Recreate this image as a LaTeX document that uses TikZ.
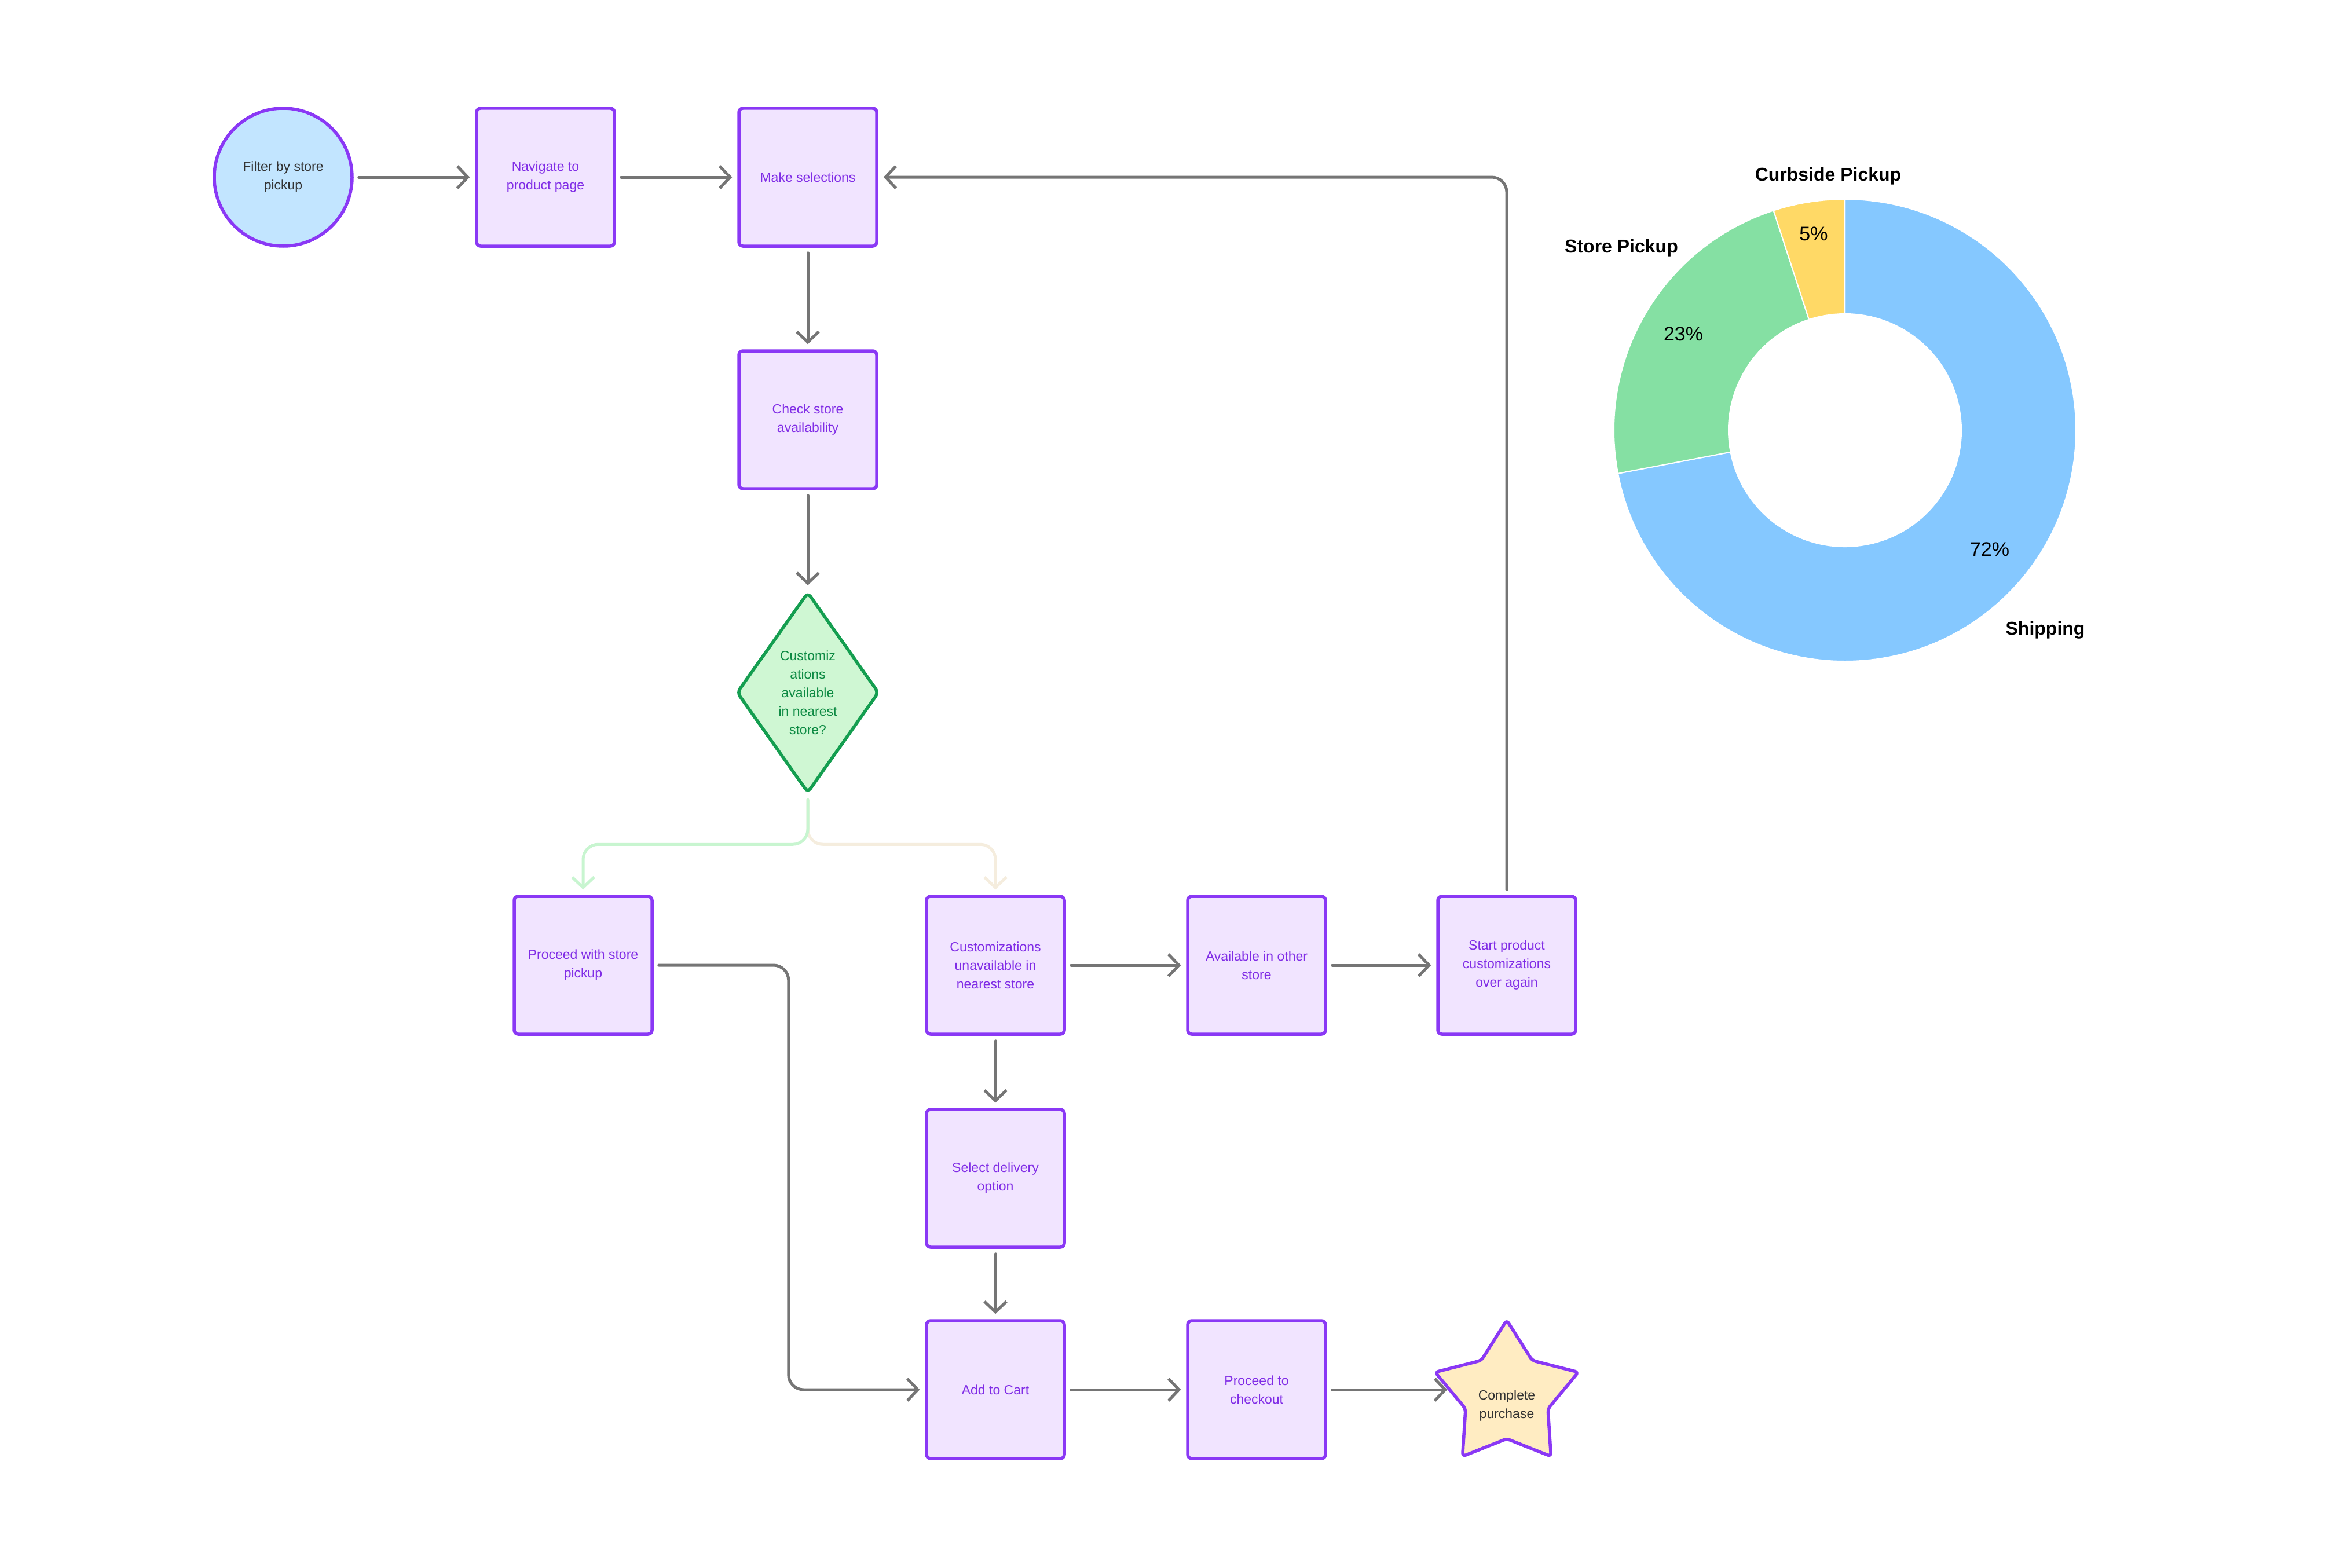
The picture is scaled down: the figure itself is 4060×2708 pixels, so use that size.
\documentclass[tikz,border=0pt]{standalone}
\usepackage{fontspec}
\setmainfont{Liberation Sans}
\usetikzlibrary{shapes.geometric,arrows.meta}
\definecolor{boxborder}{RGB}{138,56,245}
\definecolor{boxfill}{RGB}{241,228,255}
\definecolor{boxtext}{RGB}{128,44,230}
\definecolor{circfill}{RGB}{194,229,255}
\definecolor{diafill}{RGB}{207,247,211}
\definecolor{diaborder}{RGB}{20,158,80}
\definecolor{diatext}{RGB}{13,138,67}
\definecolor{starfill}{RGB}{255,236,194}
\definecolor{darktext}{RGB}{51,51,51}
\definecolor{arrowgray}{RGB}{117,117,117}
\definecolor{branchgreen}{RGB}{200,245,208}
\definecolor{branchbeige}{RGB}{245,237,222}
\definecolor{pieblue}{RGB}{133,200,255}
\definecolor{piegreen}{RGB}{133,224,163}
\definecolor{pieyellow}{RGB}{255,217,102}
\begin{document}
\begin{tikzpicture}[x=1pt,y=-1pt,
  base/.style={line width=5.5pt, font=\fontsize{23}{32}\selectfont, align=center, inner sep=0pt},
  stepbox/.style={base, draw=boxborder, fill=boxfill, text=boxtext, rectangle, rounded corners=7pt, minimum width=238pt, minimum height=238pt},
  startcirc/.style={base, draw=boxborder, fill=circfill, text=darktext, circle, minimum size=238pt},
  decision/.style={base, draw=diaborder, fill=diafill, text=diatext, diamond, rounded corners=8pt, minimum width=238pt, minimum height=347pt},
  endstar/.style={base, draw=boxborder, fill=starfill, text=darktext, star, star points=5, star point ratio=1.74, minimum size=260pt, rounded corners=6pt},
  arr/.style={draw=arrowgray, line width=5pt, line cap=round, line join=round, -{Straight Barb[length=18pt,width=38pt]}, shorten <=9pt, shorten >=9pt},
  greenarr/.style={arr, draw=branchgreen, rounded corners=26pt},
  beigearr/.style={arr, draw=branchbeige, rounded corners=26pt},
  chartlabel/.style={font=\fontsize{32}{36}\selectfont\bfseries, text=black, inner sep=0pt},
  pct/.style={font=\fontsize{34}{38}\selectfont, text=black, inner sep=0pt}
]
\fill[white] (0,0) rectangle (4060,2708);
\useasboundingbox (0,0) rectangle (4060,2708);

% nodes
\node[startcirc] (filter) at (489,306) {Filter by store\\pickup};
\node[stepbox] (nav) at (942,306) {Navigate to\\product page};
\node[stepbox] (make) at (1395,306) {Make selections};
\node[stepbox] (check) at (1395,725) {Check store\\availability};
\node[decision] (dia) at (1395,1196) {Customiz\\ations\\available\\in nearest\\store?};
\node[stepbox] (pickup) at (1007,1667) {Proceed with store\\pickup};
\node[stepbox] (unav) at (1719,1667) {Customizations\\unavailable in\\nearest store};
\node[stepbox] (avail) at (2170,1667) {Available in other\\store};
\node[stepbox] (start) at (2602,1667) {Start product\\customizations\\over again};
\node[stepbox] (select) at (1719,2035) {Select delivery\\option};
\node[stepbox] (cart) at (1719,2400) {Add to Cart};
\node[stepbox] (checkout) at (2170,2400) {Proceed to\\checkout};
\node[endstar] (star) at (2602,2410) {\mbox{}\\[20pt]Complete\\purchase};

% connectors
\draw[arr] (filter) -- (nav);
\draw[arr] (nav) -- (make);
\draw[arr] (make) -- (check);
\draw[arr] (check) -- (dia);
\draw[beigearr] (dia.south) -- ++(0,86) -| (unav.north);
\draw[greenarr] (dia.south) -- ++(0,86) -| (pickup.north);
\draw[arr] (unav) -- (avail);
\draw[arr] (avail) -- (start);
\draw[arr, rounded corners=26pt] (start.north) |- (make.east);
\draw[arr] (unav) -- (select);
\draw[arr] (select) -- (cart);
\draw[arr, rounded corners=26pt] (pickup.east) -- ++(233,0) |- (cart.west);
\draw[arr] (cart) -- (checkout);
\draw[arr] (checkout.east) -- (checkout.east -| star.west);

% donut chart
\begin{scope}[shift={(3186,743)},yscale=-1]
  \filldraw[fill=pieblue, draw=white, line width=2pt] (90:399) arc[start angle=90, end angle=-169.2, radius=399] -- (-169.2:201) arc[start angle=-169.2, end angle=90, radius=201] -- cycle;
  \filldraw[fill=piegreen, draw=white, line width=2pt] (190.8:399) arc[start angle=190.8, end angle=108, radius=399] -- (108:201) arc[start angle=108, end angle=190.8, radius=201] -- cycle;
  \filldraw[fill=pieyellow, draw=white, line width=2pt] (108:399) arc[start angle=108, end angle=90, radius=399] -- (90:201) arc[start angle=90, end angle=108, radius=201] -- cycle;
\end{scope}
\node[chartlabel] (lcurb) at (3157,304) {Curbside Pickup};
\node[chartlabel] (lstore) at (2800,428) {Store Pickup};
\node[chartlabel] (lship) at (3532,1088) {Shipping};
\node[pct] (p5) at (3132,404) {5\%};
\node[pct] (p23) at (2907,577) {23\%};
\node[pct] (p72) at (3436,949) {72\%};
\end{tikzpicture}
\end{document}
